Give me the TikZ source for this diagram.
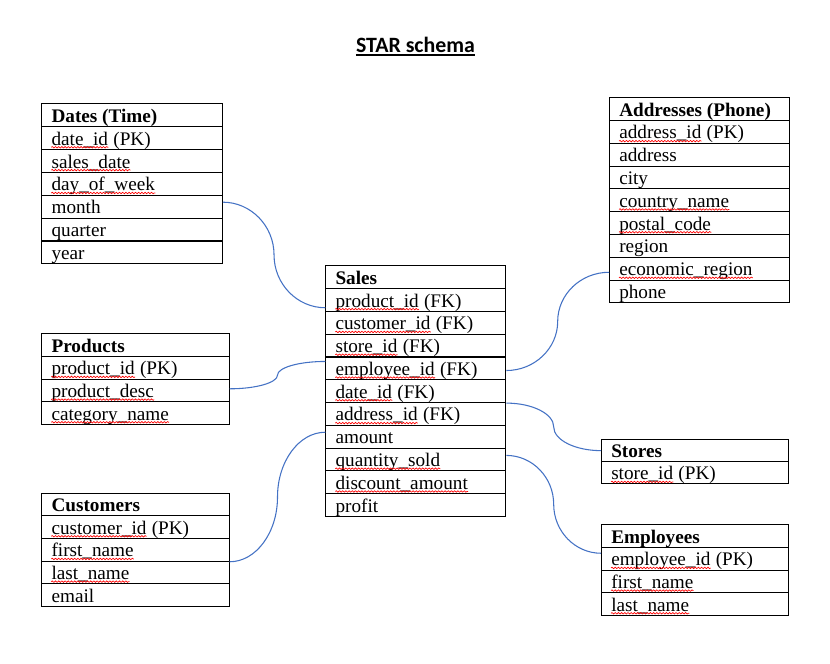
\documentclass[tikz,border=0pt]{standalone}
\usepackage{fontspec}
\setmainfont{Liberation Serif}
\newfontfamily\titlefont{Carlito}
\usepackage{tikz}
\usetikzlibrary{calc,decorations.pathmorphing}
\usepackage{xcolor}
\definecolor{linkblue}{HTML}{4472C4}

\begin{document}
\begin{tikzpicture}[x=0.75pt,y=-0.75pt,
  cell/.style={draw,line width=0.8pt,anchor=north west,inner sep=0pt},
  fld/.style={anchor=base west,inner sep=0pt,font=\fontsize{14.4}{17}\selectfont},
  typo/.style={draw=red,line width=0.5pt,decorate,decoration={snake,amplitude=0.55pt,segment length=2.4pt}},
  link/.style={draw=linkblue,line width=0.8pt,
    to path={let \p1=(\tikztostart),\p2=(\tikztotarget),\p3=($(\p1)!0.5!(\p2)$) in
      .. controls ($(\p1)!0.55!(\x3,\y1)$) and ($(\p3)!0.55!(\x3,\y1)$) .. (\p3)
      .. controls ($(\p3)!0.55!(\x3,\y2)$) and ($(\p2)!0.55!(\x3,\y2)$) .. (\p2)}}]
\useasboundingbox (0,0) rectangle (830,663);
\node[anchor=base,inner sep=0pt,font=\titlefont\fontsize{16.4}{20}\selectfont\bfseries] (title) at (415.5,52.5) {STAR schema};
\draw[line width=1.3pt] ([yshift=-2pt]title.base west)--([yshift=-2pt]title.base east);
% Dates
\foreach \fn/\fk/\fw [count=\i] in {\textbf{Dates (Time)}//0,date\_id/(PK)/1,sales\_date//1,day\_of\_week//1,month//0,quarter//0,year//0}{
  \node[cell,minimum width=135.3pt,minimum height=17.14pt] (dates-\i) at (41.3,{103.3+(\i-1)*22.86}) {};
  \node[fld] (dates-\i-w) at ([xshift=7.5pt,yshift=3.7pt]dates-\i.south west) {\fn};
  \node[fld] at ([xshift=3.6pt]dates-\i-w.base east) {\fk};
  \ifnum\fw=1 \draw[typo] ([yshift=-1.6pt]dates-\i-w.base west)--([yshift=-1.6pt]dates-\i-w.base east); \fi
}
% Products
\foreach \fn/\fk/\fw [count=\i] in {\textbf{Products}//0,product\_id/(PK)/1,product\_desc//1,category\_name//1}{
  \node[cell,minimum width=140.5pt,minimum height=17pt] (products-\i) at (41.3,{333.3+(\i-1)*22.68}) {};
  \node[fld] (products-\i-w) at ([xshift=7.5pt,yshift=3.7pt]products-\i.south west) {\fn};
  \node[fld] at ([xshift=3.6pt]products-\i-w.base east) {\fk};
  \ifnum\fw=1 \draw[typo] ([yshift=-1.6pt]products-\i-w.base west)--([yshift=-1.6pt]products-\i-w.base east); \fi
}
% Customers
\foreach \fn/\fk/\fw [count=\i] in {\textbf{Customers}//0,customer\_id/(PK)/1,first\_name//1,last\_name//1,email//0}{
  \node[cell,minimum width=140.5pt,minimum height=17pt] (customers-\i) at (41.3,{492.7+(\i-1)*22.66}) {};
  \node[fld] (customers-\i-w) at ([xshift=7.5pt,yshift=3.7pt]customers-\i.south west) {\fn};
  \node[fld] at ([xshift=3.6pt]customers-\i-w.base east) {\fk};
  \ifnum\fw=1 \draw[typo] ([yshift=-1.6pt]customers-\i-w.base west)--([yshift=-1.6pt]customers-\i-w.base east); \fi
}
% Sales
\foreach \fn/\fk/\fw [count=\i] in {\textbf{Sales}//0,product\_id/(FK)/1,customer\_id/(FK)/1,store\_id/(FK)/1,employee\_id/(FK)/1,date\_id/(FK)/1,address\_id/(FK)/1,amount//0,quantity\_sold//1,discount\_amount//1,profit//0}{
  \node[cell,minimum width=135pt,minimum height=17.09pt] (sales-\i) at (325.3,{265.3+(\i-1)*22.79}) {};
  \node[fld] (sales-\i-w) at ([xshift=7.5pt,yshift=3.7pt]sales-\i.south west) {\fn};
  \node[fld] at ([xshift=3.6pt]sales-\i-w.base east) {\fk};
  \ifnum\fw=1 \draw[typo] ([yshift=-1.6pt]sales-\i-w.base west)--([yshift=-1.6pt]sales-\i-w.base east); \fi
}
% Addresses
\foreach \fn/\fk/\fw [count=\i] in {\textbf{Addresses (Phone)}//0,address\_id/(PK)/1,address//0,city//0,country\_name//1,postal\_code//1,region//0,economic\_region//1,phone//0}{
  \node[cell,minimum width=134.8pt,minimum height=17.08pt] (addresses-\i) at (609,{97.3+(\i-1)*22.78}) {};
  \node[fld] (addresses-\i-w) at ([xshift=7.5pt,yshift=3.7pt]addresses-\i.south west) {\fn};
  \node[fld] at ([xshift=3.6pt]addresses-\i-w.base east) {\fk};
  \ifnum\fw=1 \draw[typo] ([yshift=-1.6pt]addresses-\i-w.base west)--([yshift=-1.6pt]addresses-\i-w.base east); \fi
}
% Stores
\foreach \fn/\fk/\fw [count=\i] in {\textbf{Stores}//0,store\_id/(PK)/1}{
  \node[cell,minimum width=140.5pt,minimum height=16.65pt] (stores-\i) at (601,{439+(\i-1)*22.2}) {};
  \node[fld] (stores-\i-w) at ([xshift=7.5pt,yshift=3.5pt]stores-\i.south west) {\fn};
  \node[fld] at ([xshift=3.6pt]stores-\i-w.base east) {\fk};
  \ifnum\fw=1 \draw[typo] ([yshift=-1.6pt]stores-\i-w.base west)--([yshift=-1.6pt]stores-\i-w.base east); \fi
}
% Employees
\foreach \fn/\fk/\fw [count=\i] in {\textbf{Employees}//0,employee\_id/(PK)/1,first\_name//1,last\_name//1}{
  \node[cell,minimum width=140.5pt,minimum height=17pt] (employees-\i) at (601,{524.3+(\i-1)*22.68}) {};
  \node[fld] (employees-\i-w) at ([xshift=7.5pt,yshift=3.7pt]employees-\i.south west) {\fn};
  \node[fld] at ([xshift=3.6pt]employees-\i-w.base east) {\fk};
  \ifnum\fw=1 \draw[typo] ([yshift=-1.6pt]employees-\i-w.base west)--([yshift=-1.6pt]employees-\i-w.base east); \fi
}
% links
\draw[link] ([yshift=3.4pt]dates-5.east) to ([yshift=-5.8pt]sales-2.west);
\draw[link] ([yshift=1.3pt]products-3.east) to ([yshift=5.2pt]sales-5.west);
\draw[link] (customers-3.south east) to ([yshift=3.4pt]sales-8.west);
\draw[link] ([yshift=-1.6pt]sales-5.east) to ([yshift=-2.7pt]addresses-8.west);
\draw[link] (sales-6.south east) to (stores-1.west);
\draw[link] ([yshift=3.1pt]sales-9.east) to ([yshift=4.2pt]employees-2.west);
\end{tikzpicture}
\end{document}
